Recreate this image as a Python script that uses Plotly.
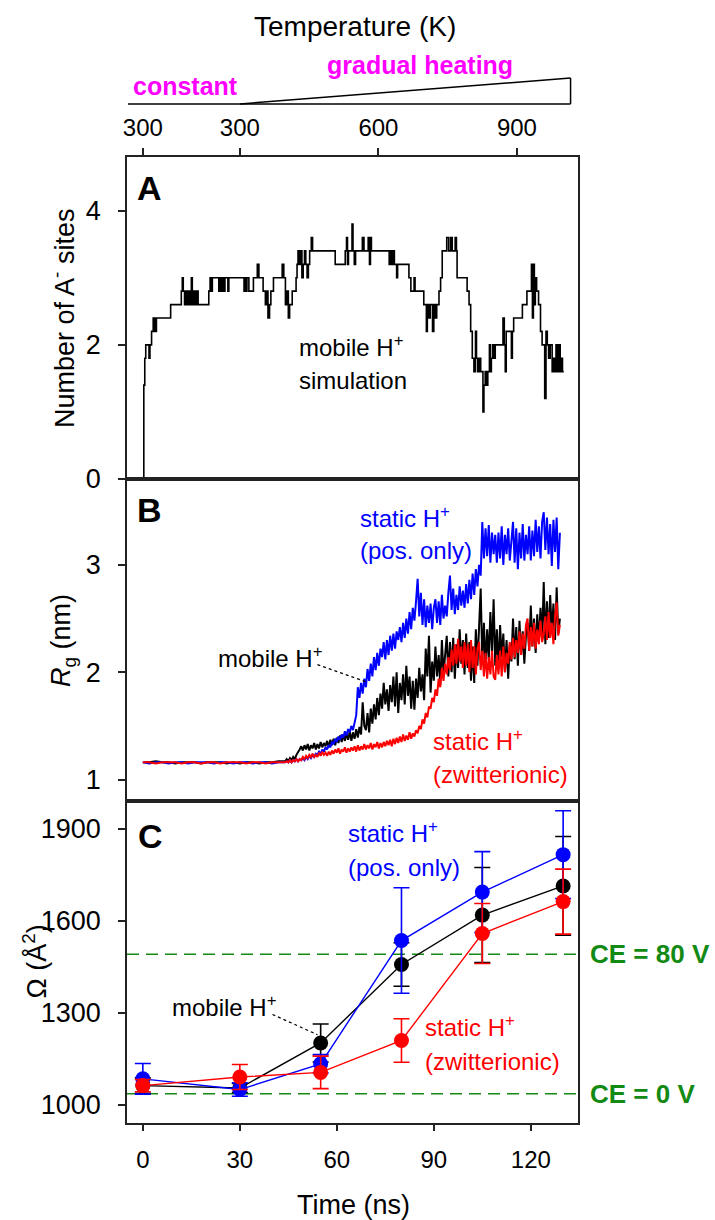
import numpy as np
import plotly.graph_objects as go

# ---------------- data ----------------
# Panel A: number of A- sites (step trace), time in ns
A_TIME = [0, 0.3, 0.6, 0.9, 1.9, 2.2, 2.7, 3.2, 3.7, 4.2, 8.6, 11.9, 12.2, 12.5, 12.9, 13.3, 13.6, 14.1,
          14.5, 15.0, 15.3, 15.8, 16.2, 16.7, 17.1, 20.4, 20.8, 21.2, 21.5, 23.5, 23.7, 24.0, 24.2, 24.5,
          24.8, 25.2, 25.4, 26.3, 26.6, 31.3, 31.6, 31.9, 32.2, 32.8, 34.2, 35.4, 35.9, 37.2, 37.9, 38.4,
          38.7, 39.2, 39.6, 40.4, 43.1, 43.6, 44.1, 44.6, 45.0, 45.4, 46.2, 47.4, 47.7, 48.0, 48.4, 48.8,
          49.2, 49.6, 50.0, 50.4, 50.8, 51.2, 51.6, 52.1, 52.5, 59.5, 62.6, 63.0, 63.3, 63.6, 64.7, 65.0,
          65.4, 65.8, 67.9, 68.4, 69.7, 70.1, 70.4, 70.7, 76.2, 76.6, 77.0, 77.4, 77.8, 78.5, 78.8, 82.3,
          82.9, 83.9, 84.2, 86.9, 87.7, 88.0, 88.5, 88.9, 89.6, 90.0, 90.4, 90.9, 91.6, 92.1, 92.6, 94.0,
          94.6, 95.2, 95.7, 96.6, 97.0, 97.2, 100.3, 100.9, 101.4, 101.9, 102.4, 102.9, 103.2, 103.6,
          104.1, 104.5, 105.2, 105.5, 105.9, 106.3, 106.7, 107.2, 107.5, 107.8, 108.2, 108.6, 109.0,
          111.4, 111.8, 112.1, 112.4, 114.0, 114.3, 114.7, 117.4, 118.8, 120.2, 120.5, 120.8, 121.1,
          121.4, 121.8, 122.4, 123.0, 123.5, 124.3, 124.7, 125.1, 125.5, 126.0, 126.6, 127.0, 127.4,
          127.8, 128.2, 128.7, 129.1, 129.5, 129.8, 130.2]
A_SITES = [0.0, 1.4, 1.8, 2.0, 1.8, 2.0, 2.2, 2.4, 2.2, 2.4, 2.6, 2.8, 3.0, 2.8, 2.6, 2.8, 2.6, 2.8,
           2.6, 3.0, 2.6, 2.8, 2.6, 2.8, 2.6, 2.8, 3.0, 2.8, 3.0, 2.8, 3.0, 2.8, 3.0, 2.8,
           3.0, 2.8, 3.0, 2.8, 3.0, 2.8, 3.0, 2.8, 3.0, 2.8, 3.0, 3.2, 3.0, 2.8, 2.6, 2.8,
           2.4, 2.6, 2.8, 3.0, 3.2, 3.0, 2.6, 2.8, 2.4, 2.6, 2.8, 3.0, 3.2, 3.4, 3.2, 3.4,
           3.0, 3.2, 3.4, 3.2, 3.0, 3.2, 3.4, 3.6, 3.4, 3.2, 3.4, 3.6, 3.2, 3.4, 3.8, 3.4,
           3.2, 3.4, 3.6, 3.4, 3.6, 3.2, 3.6, 3.4, 3.2, 3.4, 3.2, 3.4, 3.2, 3.0, 3.2, 3.0,
           2.8, 3.0, 2.8, 2.6, 2.2, 2.6, 2.4, 2.6, 2.2, 2.6, 2.4, 2.6, 2.8, 3.0, 3.4, 3.6,
           3.4, 3.6, 3.4, 3.6, 3.4, 3.0, 2.8, 2.6, 2.2, 1.8, 1.6, 2.2, 1.8, 1.6,
           1.8, 1.6, 1.0, 1.4, 1.6, 1.4, 1.6, 2.0, 1.6, 1.8, 2.0, 1.8, 2.0,
           2.4, 2.0, 1.6, 2.2, 1.8, 2.2, 2.4, 2.6, 2.8, 3.2, 2.4, 3.2, 2.6,
           3.0, 2.8, 2.6, 2.2, 2.0, 1.2, 2.2, 2.0, 1.8, 2.0, 1.6, 1.8, 1.6,
           2.0, 1.6, 2.0, 1.6, 1.8, 1.6, 1.6]

# Panel B: radius of gyration (nm); coarse sampling to 42 ns, then every 0.5 ns
RG_TIME = list(range(0, 43, 2)) + [44 + 0.5 * i for i in range(173)]
RG_MOBILE = [1.16, 1.16, 1.17, 1.16, 1.16, 1.15, 1.16, 1.16, 1.16, 1.15, 1.16, 1.16, 1.16, 1.15, 1.16,
             1.15, 1.16, 1.16, 1.15, 1.16, 1.16, 1.17,
             1.17, 1.19, 1.17, 1.20, 1.18, 1.21, 1.19, 1.23, 1.25, 1.28,
             1.31, 1.27, 1.32, 1.28, 1.33, 1.27, 1.32, 1.29, 1.34, 1.28,
             1.33, 1.29, 1.35, 1.30, 1.34, 1.31, 1.36, 1.30, 1.37, 1.32,
             1.38, 1.32, 1.39, 1.34, 1.41, 1.35, 1.42, 1.36, 1.43, 1.37,
             1.45, 1.36, 1.44, 1.38, 1.47, 1.39, 1.49, 1.42, 1.72, 1.50,
             1.46, 1.62, 1.44, 1.66, 1.52, 1.70, 1.56, 1.76, 1.60, 1.80,
             1.66, 1.90, 1.70, 1.84, 1.64, 1.88, 1.72, 1.96, 1.68, 2.00,
             1.62, 1.90, 1.74, 1.98, 1.70, 2.06, 1.78, 1.96, 1.66, 1.92,
             1.65, 1.94, 1.76, 2.04, 1.82, 1.98, 1.74, 2.22, 1.96, 2.34,
             1.81, 2.10, 1.92, 2.24, 1.96, 2.16, 1.88, 2.30, 1.98, 2.20,
             2.34, 1.96, 2.28, 2.00, 2.32, 1.94, 2.26, 2.04, 2.40, 2.08,
             2.30, 1.98, 2.36, 2.04, 2.28, 1.92, 2.24, 1.90, 2.40, 2.06,
             2.36, 2.78, 2.10, 2.46, 2.04, 2.40, 2.12, 2.56, 2.18, 2.68,
             2.06, 2.40, 2.03, 2.44, 2.14, 2.36, 2.00, 2.30, 1.94, 2.26,
             2.10, 2.50, 2.12, 2.42, 2.06, 2.48, 2.16, 2.38, 2.08, 2.34,
             2.46, 2.20, 2.62, 2.24, 2.50, 2.18, 2.54, 2.28, 2.60, 2.30,
             2.84, 2.26, 2.66, 2.32, 2.72, 2.36, 2.64, 2.30, 2.79, 2.36,
             2.50]
RG_POS_ONLY = [1.16, 1.15, 1.16, 1.16, 1.15, 1.16, 1.16, 1.15, 1.16, 1.16, 1.16, 1.15, 1.16, 1.16, 1.15,
               1.16, 1.16, 1.15, 1.16, 1.16, 1.15, 1.16,
               1.16, 1.17, 1.16, 1.18, 1.16, 1.18, 1.17, 1.19, 1.17, 1.19,
               1.18, 1.20, 1.18, 1.21, 1.19, 1.22, 1.20, 1.23, 1.21, 1.24,
               1.23, 1.26, 1.24, 1.28, 1.26, 1.30, 1.28, 1.32, 1.30, 1.35,
               1.33, 1.38, 1.35, 1.40, 1.37, 1.42, 1.39, 1.45, 1.41, 1.47,
               1.44, 1.50, 1.46, 1.53, 1.60, 1.86, 1.76, 1.90, 1.80, 1.94,
               1.86, 2.03, 1.92, 2.08, 1.96, 2.14, 2.02, 2.18, 2.06, 2.22,
               2.14, 2.28, 2.12, 2.30, 2.16, 2.34, 2.20, 2.36, 2.22, 2.38,
               2.30, 2.42, 2.28, 2.46, 2.32, 2.50, 2.36, 2.56, 2.40, 2.60,
               2.48, 2.66, 2.87, 2.52, 2.74, 2.44, 2.68, 2.42, 2.62, 2.46,
               2.64, 2.40, 2.60, 2.68, 2.46, 2.66, 2.44, 2.72, 2.50, 2.62,
               2.52, 2.74, 2.90, 2.58, 2.78, 2.54, 2.72, 2.58, 2.80, 2.62,
               2.76, 2.60, 2.82, 2.64, 2.86, 2.68, 2.92, 2.72, 2.96, 2.80,
               3.00, 2.90, 3.40, 3.06, 3.34, 3.08, 3.37, 3.02, 3.30, 3.10,
               3.28, 3.02, 3.30, 3.06, 3.36, 3.00, 3.28, 3.10, 3.34, 3.04,
               3.24, 3.40, 3.02, 3.34, 2.96, 3.30, 3.06, 3.38, 3.04, 3.28,
               3.10, 3.36, 3.04, 3.32, 3.08, 3.42, 3.12, 3.36, 3.06, 3.40,
               3.49, 3.14, 3.44, 3.10, 3.38, 2.99, 3.42, 3.12, 3.44, 2.96,
               3.30]
RG_ZWITTER = [1.16, 1.16, 1.15, 1.16, 1.16, 1.16, 1.15, 1.16, 1.16, 1.15, 1.16, 1.16, 1.15, 1.16, 1.16,
              1.16, 1.15, 1.16, 1.16, 1.15, 1.16, 1.16,
              1.16, 1.17, 1.16, 1.18, 1.16, 1.18, 1.17, 1.19, 1.17, 1.19,
              1.18, 1.21, 1.19, 1.22, 1.20, 1.23, 1.21, 1.24, 1.21, 1.23,
              1.21, 1.25, 1.22, 1.26, 1.23, 1.25, 1.22, 1.26, 1.23, 1.27,
              1.24, 1.28, 1.25, 1.29, 1.24, 1.28, 1.26, 1.30, 1.25, 1.29,
              1.26, 1.30, 1.27, 1.31, 1.26, 1.32, 1.27, 1.31, 1.28, 1.33,
              1.28, 1.32, 1.29, 1.34, 1.28, 1.33, 1.30, 1.35, 1.29, 1.34,
              1.30, 1.35, 1.31, 1.36, 1.32, 1.37, 1.31, 1.38, 1.33, 1.39,
              1.34, 1.40, 1.35, 1.42, 1.36, 1.41, 1.37, 1.44, 1.38, 1.43,
              1.40, 1.46, 1.43, 1.50, 1.47, 1.56, 1.52, 1.62, 1.58, 1.68,
              1.66, 1.76, 1.72, 1.84, 1.78, 1.94, 1.86, 2.04, 1.92, 2.08,
              1.98, 2.14, 2.02, 2.21, 2.06, 2.26, 2.08, 2.31, 2.10, 2.24,
              2.04, 2.28, 2.06, 2.26, 2.00, 2.30, 2.04, 2.24, 1.98, 2.22,
              2.28, 2.02, 2.20, 1.96, 2.18, 1.94, 2.14, 1.98, 2.20, 1.96,
              1.93, 2.16, 1.98, 2.20, 1.96, 2.24, 2.00, 2.18, 2.08, 2.28,
              2.12, 2.32, 2.14, 2.30, 2.18, 2.38, 2.16, 2.36, 2.22, 2.44,
              2.50, 2.20, 2.42, 2.24, 2.46, 2.22, 2.40, 2.26, 2.48, 2.28,
              2.36, 2.52, 2.30, 2.56, 2.32, 2.46, 2.26, 2.52, 2.65, 2.34,
              2.44]

# Panel C: collision cross sections
OMEGA_TIME = [0, 30, 55, 80, 105, 130]
OMEGA_MOBILE = [1062, 1054, 1201, 1457, 1618, 1713]
OMEGA_MOBILE_ERR = [25, 15, 62, 71, 155, 161]
OMEGA_POS_ONLY = [1084, 1049, 1133, 1535, 1693, 1815]
OMEGA_POS_ONLY_ERR = [50, 22, 30, 172, 132, 143]
OMEGA_ZWITTER = [1062, 1090, 1105, 1209, 1558, 1662]
OMEGA_ZWITTER_ERR = [20, 41, 53, 71, 98, 106]
CE_LEVELS = [1490, 1035]
CE_LABELS = ["CE = 80 V", "CE = 0 V"]

# Temperature axis (top)
TEMP_TICK_TIME = [0, 30, 72.86, 115.71]
TEMP_TICK_TEXT = ["300", "300", "600", "900"]
TIME_TICKS = [0, 30, 60, 90, 120]

# ---------------- figure ----------------
FONT = "Liberation Sans, Arial, sans-serif"
BLUE, RED, BLACK, GREEN, MAGENTA = "#0000FF", "#FF0000", "#000000", "#138A13", "#FF00FF"

fig = go.Figure()

fig.add_trace(go.Scatter(x=A_TIME, y=A_SITES, mode="lines", xaxis="x", yaxis="y",
                         line=dict(color=BLACK, width=1.6, shape="hv"), showlegend=False))

for ys, col in [(RG_MOBILE, BLACK), (RG_POS_ONLY, BLUE), (RG_ZWITTER, RED)]:
    fig.add_trace(go.Scatter(x=RG_TIME, y=ys, mode="lines", xaxis="x2", yaxis="y2",
                             line=dict(color=col, width=2.0), showlegend=False))

for ys, es, col in [(OMEGA_MOBILE, OMEGA_MOBILE_ERR, BLACK),
                    (OMEGA_POS_ONLY, OMEGA_POS_ONLY_ERR, BLUE),
                    (OMEGA_ZWITTER, OMEGA_ZWITTER_ERR, RED)]:
    fig.add_trace(go.Scatter(x=OMEGA_TIME, y=ys, mode="lines+markers", xaxis="x3", yaxis="y3",
                             line=dict(color=col, width=1.4),
                             marker=dict(color=col, size=15),
                             error_y=dict(type="data", array=es, color=col, thickness=1.6, width=8),
                             showlegend=False))

XR = [-4.9, 134.6]
axis_common = dict(showline=True, linecolor="#222222", linewidth=1.5, mirror=True,
                   showgrid=False, zeroline=False, range=XR,
                   tickfont=dict(family=FONT, size=24, color="black"))
ycommon = dict(showline=True, linecolor="#222222", linewidth=1.5, mirror=True,
               showgrid=False, zeroline=False, ticks="outside", ticklen=7, tickwidth=1.5,
               tickcolor="#222222", ticklabelstandoff=12,
               tickfont=dict(family=FONT, size=27, color="black"))

fig.update_layout(
    width=715, height=1220,
    margin=dict(l=127, r=137, t=157, b=97),
    paper_bgcolor="white", plot_bgcolor="white",
    xaxis=dict(axis_common, anchor="y", side="top", tickvals=TEMP_TICK_TIME, ticktext=TEMP_TICK_TEXT,
               ticks="outside", ticklen=7, tickwidth=1.5, tickcolor="#222222", ticklabelstandoff=3),
    xaxis2=dict(axis_common, anchor="y2", showticklabels=False, ticks=""),
    xaxis3=dict(axis_common, anchor="y3", tickvals=TIME_TICKS, ticks="outside", ticklen=6,
                tickwidth=1.5, tickcolor="#222222", ticklabelstandoff=8),
    yaxis=dict(ycommon, domain=[2 / 3, 1], range=[0, 4.8], tickvals=[0, 2, 4]),
    yaxis2=dict(ycommon, domain=[1 / 3, 2 / 3], range=[0.8, 3.8], tickvals=[1, 2, 3]),
    yaxis3=dict(ycommon, domain=[0, 1 / 3], range=[940, 1990], tickvals=[1000, 1300, 1600, 1900]),
)

# CE reference lines
for lvl in CE_LEVELS:
    fig.add_shape(type="line", xref="paper", yref="y3", x0=0, x1=1, y0=lvl, y1=lvl,
                  line=dict(color=GREEN, width=1.5, dash="12px,7px"), layer="below")

# heating profile wedge above the top axis
fig.add_shape(type="line", xref="x", yref="paper", x0=-4.6, x1=132.3, y0=1.0549, y1=1.0549,
              line=dict(color="black", width=1.5))
fig.add_shape(type="line", xref="x", yref="paper", x0=30, x1=132.3, y0=1.0549, y1=1.0818,
              line=dict(color="black", width=1.5))
fig.add_shape(type="line", xref="x", yref="paper", x0=132.3, x1=132.3, y0=1.0549, y1=1.0818,
              line=dict(color="black", width=1.5))

# dotted leader lines
fig.add_shape(type="line", xref="x2", yref="y2", x0=54.0, y0=2.07, x1=69.1, y1=1.91,
              line=dict(color="black", width=1.2, dash="dot"))
fig.add_shape(type="line", xref="x3", yref="y3", x0=40.1, y0=1294, x1=54.0, y1=1228,
              line=dict(color="black", width=1.2, dash="dot"))

ann = []


def txt(text, x, y, xref, yref, size=24, color="black", bold=False, xanchor="left", angle=0):
    ann.append(dict(text=f"<b>{text}</b>" if bold else text, x=x, y=y, xref=xref, yref=yref,
                    xanchor=xanchor, yanchor="middle", showarrow=False, textangle=angle,
                    font=dict(family=FONT, size=size, color=color)))


# header
txt("Temperature (K)", 0.5055, 1.1346, "paper", "paper", size=28, xanchor="center")
txt("constant", 0.1308, 1.0735, "paper", "paper", size=25, color=MAGENTA, bold=True, xanchor="center")
txt("gradual heating", 0.6497, 1.0952, "paper", "paper", size=25, color=MAGENTA, bold=True,
    xanchor="center")
txt("Time (ns)", 0.503, -0.0849, "paper", "paper", size=27, xanchor="center")

# y titles
txt("Number of A<sup>-</sup> sites", -0.142, 5 / 6, "paper", "paper", size=27, xanchor="center", angle=-90)
txt("<i>R</i><sub>g</sub> (nm)", -0.142, 0.5, "paper", "paper", size=27, xanchor="center", angle=-90)
txt("Ω (Å<sup>2</sup>)", -0.205, 1 / 6, "paper", "paper", size=27, xanchor="center", angle=-90)

# panel letters
txt("A", 0.0488, 0.968, "paper", "paper", size=34, bold=True, xanchor="center")
txt("B", 0.0488, 0.6346, "paper", "paper", size=34, bold=True, xanchor="center")
txt("C", 0.053, 0.2971, "paper", "paper", size=34, bold=True, xanchor="center")

# panel A labels
txt("mobile H<sup>+</sup>", 47.8, 1.99, "x", "y")
txt("simulation", 47.8, 1.47, "x", "y")

# panel B labels
txt("static H<sup>+</sup>", 66.6, 3.45, "x2", "y2", color=BLUE)
txt("(pos. only)", 66.6, 3.13, "x2", "y2", color=BLUE)
txt("mobile H<sup>+</sup>", 22.7, 2.14, "x2", "y2")
txt("static H<sup>+</sup>", 89.1, 1.37, "x2", "y2", color=RED)
txt("(zwitterionic)", 89.1, 1.05, "x2", "y2", color=RED)

# panel C labels
txt("static H<sup>+</sup>", 62.9, 1888, "x3", "y3", color=BLUE)
txt("(pos. only)", 62.9, 1774, "x3", "y3", color=BLUE)
txt("mobile H<sup>+</sup>", 8.5, 1321, "x3", "y3")
txt("static H<sup>+</sup>", 86.6, 1255, "x3", "y3", color=RED)
txt("(zwitterionic)", 86.6, 1140, "x3", "y3", color=RED)

# CE labels
for lvl, lab in zip(CE_LEVELS, CE_LABELS):
    txt(lab, 1.022, lvl, "paper", "y3", size=26, color=GREEN, bold=True)

fig.update_layout(annotations=ann)

fig.write_html("out.html", config={"displayModeBar": False},
               post_script="document.body.style.margin='0';document.body.style.padding='0';")
